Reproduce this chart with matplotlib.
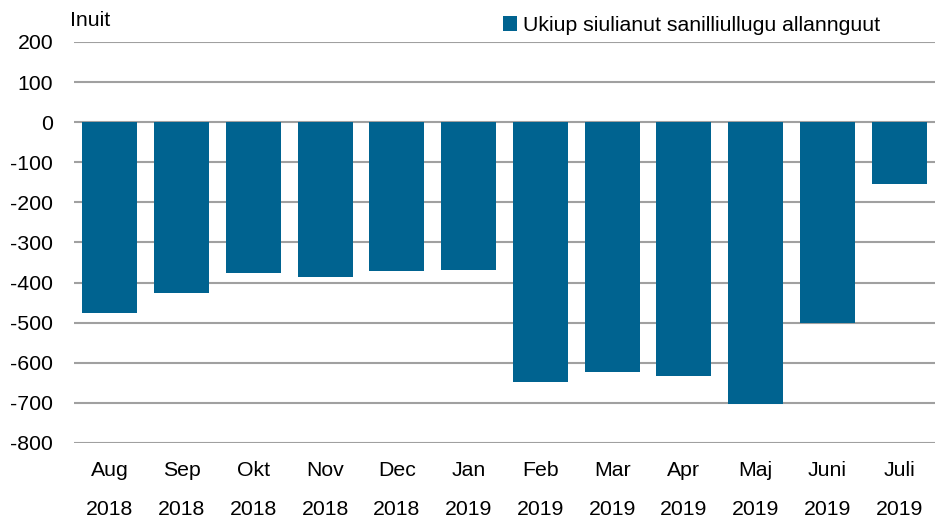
import matplotlib
matplotlib.use("Agg")
import matplotlib.pyplot as plt
import numpy as np

months = ["Aug", "Sep", "Okt", "Nov", "Dec", "Jan", "Feb", "Mar", "Apr", "Maj", "Juni", "Juli"]
years = ["2018", "2018", "2018", "2018", "2018", "2019", "2019", "2019", "2019", "2019", "2019", "2019"]
values = [-475, -426, -376, -387, -372, -369, -648, -624, -634, -702, -500, -153]
series_name = "Ukiup siulianut sanilliullugu allannguut"
y_ticks = [200, 100, 0, -100, -200, -300, -400, -500, -600, -700, -800]

plt.rcParams['font.family'] = ['Liberation Sans', 'DejaVu Sans']
fs = 15.3

fig = plt.figure(figsize=(9.38, 5.2), dpi=100)
ax = fig.add_axes([74/938, 1 - 443/520, (935-74)/938, (443-42)/520])

x = np.arange(len(months))
color = "#006390"
ax.bar(x, values, width=0.77, color=color, label=series_name, zorder=3)

ax.set_ylim(-800, 200)
ax.set_xlim(-0.5, len(months) - 0.5)
ax.set_yticks(y_ticks)
ax.set_yticklabels([str(t) for t in y_ticks], fontsize=fs)
ax.yaxis.grid(True, color="#a0a0a0", linewidth=1.5, zorder=0)
ax.set_axisbelow(True)
for s in ax.spines.values():
    s.set_visible(False)
ax.tick_params(axis="both", length=0)
ax.tick_params(axis="y", pad=15)
ax.set_xticks(x)
ax.set_xticklabels([f"{m}\n{y}" for m, y in zip(months, years)], fontsize=fs, linespacing=2.3)
ax.tick_params(axis="x", pad=13)

fig.text(70/938, 1 - 20/520, "Inuit", fontsize=fs, va="center", ha="left")

leg = ax.legend(loc="lower left", bbox_to_anchor=(503/938, 1 - 35/520), bbox_transform=fig.transFigure,
                frameon=False, fontsize=fs, handlelength=0.65, handleheight=0.65, handletextpad=0.3,
                borderpad=0, borderaxespad=0)

fig.savefig("out.png", dpi=100)
